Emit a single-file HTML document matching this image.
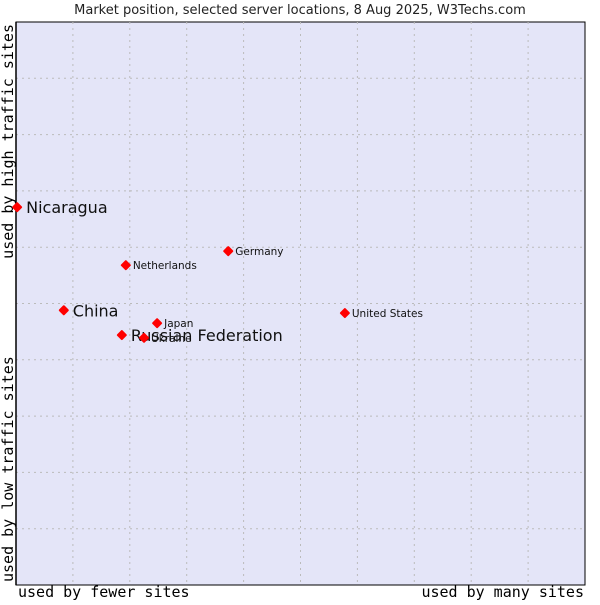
<!DOCTYPE html>
<html><head><meta charset="utf-8"><style>
body{margin:0;background:#fff;width:600px;height:600px;overflow:hidden}
svg text{font-family:"DejaVu Sans","Liberation Sans",sans-serif}
.mono{font-family:"DejaVu Sans Mono","Liberation Mono",monospace}
</style></head><body>
<svg id="chart" width="600" height="600">
<text x="300" y="14" text-anchor="middle" font-size="13" fill="#222">Market position, selected server locations, 8 Aug 2025, W3Techs.com</text>
<rect x="16" y="22" width="569" height="563" fill="#e4e5f8" stroke="#000" stroke-width="1"/>
<g id="grid"></g>
<line x1="16" y1="22" x2="16" y2="585" stroke="#000" stroke-width="1.5"/>
<text class="mono" x="18" y="597" font-size="15" fill="#000">used by fewer sites</text>
<text class="mono" x="584" y="597" font-size="15" fill="#000" text-anchor="end">used by many sites</text>
<text class="mono" transform="translate(13,24) rotate(-90)" font-size="15" fill="#000" text-anchor="end">used by high traffic sites</text>
<text class="mono" transform="translate(13,582) rotate(-90)" font-size="15" fill="#000">used by low traffic sites</text>
<g id="points"></g>
</svg>
<script>
const names = ["Nicaragua","China","Russian Federation","Ukraine","Japan","Netherlands","Germany","United States"];
const xValues = [0.2, 8.4, 18.6, 22.5, 24.8, 19.3, 37.3, 57.8];
const yValues = [67.1, 48.8, 44.4, 43.9, 46.5, 56.8, 59.3, 48.3];
const bigLabel = [true, true, true, false, false, false, false, false];
const gridTicks = [10,20,30,40,50,60,70,80,90];
const NS="http://www.w3.org/2000/svg";
const X0=16,X1=585,Y0=585,Y1=22;
const sx=v=>X0+v/100*(X1-X0);
const sy=v=>Y0-v/100*(Y0-Y1);
const grid=document.getElementById('grid');
gridTicks.forEach(t=>{
  const v=document.createElementNS(NS,'line');
  v.setAttribute('x1',sx(t));v.setAttribute('x2',sx(t));v.setAttribute('y1',Y1);v.setAttribute('y2',Y0);
  v.setAttribute('stroke','#bbb');v.setAttribute('stroke-dasharray','2,4');
  
  
  grid.appendChild(v);
  const h=document.createElementNS(NS,'line');
  h.setAttribute('x1',X0);h.setAttribute('x2',X1);h.setAttribute('y1',sy(t));h.setAttribute('y2',sy(t));
  h.setAttribute('stroke','#bbb');h.setAttribute('stroke-dasharray','2,4');
  
  
  grid.appendChild(h);
});
const pts=document.getElementById('points');
names.forEach((n,i)=>{
  const x=sx(xValues[i]),y=sy(yValues[i]);
  const d=document.createElementNS(NS,'path');
  d.setAttribute('d',`M${x} ${y-4}L${x+4} ${y}L${x} ${y+4}L${x-4} ${y}Z`);
  d.setAttribute('fill','#f00');d.setAttribute('stroke','#f00');
  d.setAttribute('stroke-width','2');d.setAttribute('stroke-linejoin','round');
  
  
  pts.appendChild(d);
  const t=document.createElementNS(NS,'text');
  t.setAttribute('x',x+(bigLabel[i]?9:7));
  t.setAttribute('y',y+(bigLabel[i]?6:4));
  t.setAttribute('font-size',bigLabel[i]?16:10.5);
  t.setAttribute('fill','#111');
  t.textContent=n;
  
  
  pts.appendChild(t);
});
</script>
</body></html>
